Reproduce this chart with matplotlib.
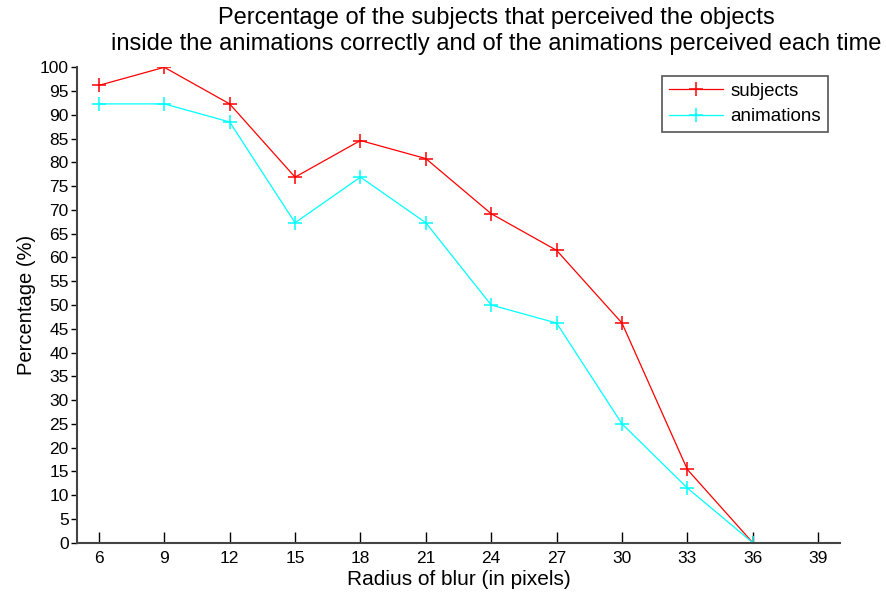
import numpy as np
import matplotlib
matplotlib.use('Agg')
import matplotlib.pyplot as plt

# 数据
radius = [6, 9, 12, 15, 18, 21, 24, 27, 30, 33, 36]
subjects = [96.2, 100, 92.3, 76.9, 84.6, 80.8, 69.2, 61.5, 46.2, 15.4, 0]
animations = [92.3, 92.3, 88.5, 67.3, 76.9, 67.3, 50.0, 46.2, 25.0, 11.5, 0]
xticks = [6, 9, 12, 15, 18, 21, 24, 27, 30, 33, 36, 39]
yticks = list(range(0, 101, 5))

plt.rcParams['font.family'] = ['Liberation Sans', 'DejaVu Sans']

fig = plt.figure(figsize=(8.86, 5.94), dpi=100)
ax = fig.add_axes([0.087, 0.0864, 0.861, 0.8003])

ax.plot(radius, subjects, '-+', color='red', lw=0.9, ms=9.5, mew=1.1, label='subjects')
ax.plot(radius, animations, '-+', color='cyan', lw=0.9, ms=9.5, mew=1.1, label='animations')

ax.set_xlim(5, 40)
ax.set_ylim(0, 100)
ax.set_xticks(xticks)
ax.set_yticks(yticks)
ax.tick_params(axis='x', direction='in', length=8, width=1, labelsize=12.5, pad=6)
ax.tick_params(axis='y', direction='out', length=4, width=1, labelsize=12.5, pad=2)

for s in ['top', 'right']:
    ax.spines[s].set_visible(False)
for s in ['left', 'bottom']:
    ax.spines[s].set_color('#444444')
    ax.spines[s].set_linewidth(1.5)

ax.set_xlabel('Radius of blur (in pixels)', fontsize=15, labelpad=3)
ax.set_ylabel('Percentage (%)', fontsize=14.5, labelpad=3)
fig.text(0.56, 0.988, 'Percentage of the subjects that perceived the objects\n'
         'inside the animations correctly and of the animations perceived each time',
         fontsize=17, linespacing=1.2, ha='center', va='top', multialignment='center')

leg = ax.legend(loc='upper right', bbox_to_anchor=(0.984, 0.982), borderaxespad=0,
                fontsize=13.5, fancybox=False, framealpha=1, handlelength=2.9,
                borderpad=0.35, labelspacing=0.45, handletextpad=0.4)
leg.get_frame().set_edgecolor('#555555')
leg.get_frame().set_linewidth(1.2)

fig.savefig('out.png', dpi=100)
